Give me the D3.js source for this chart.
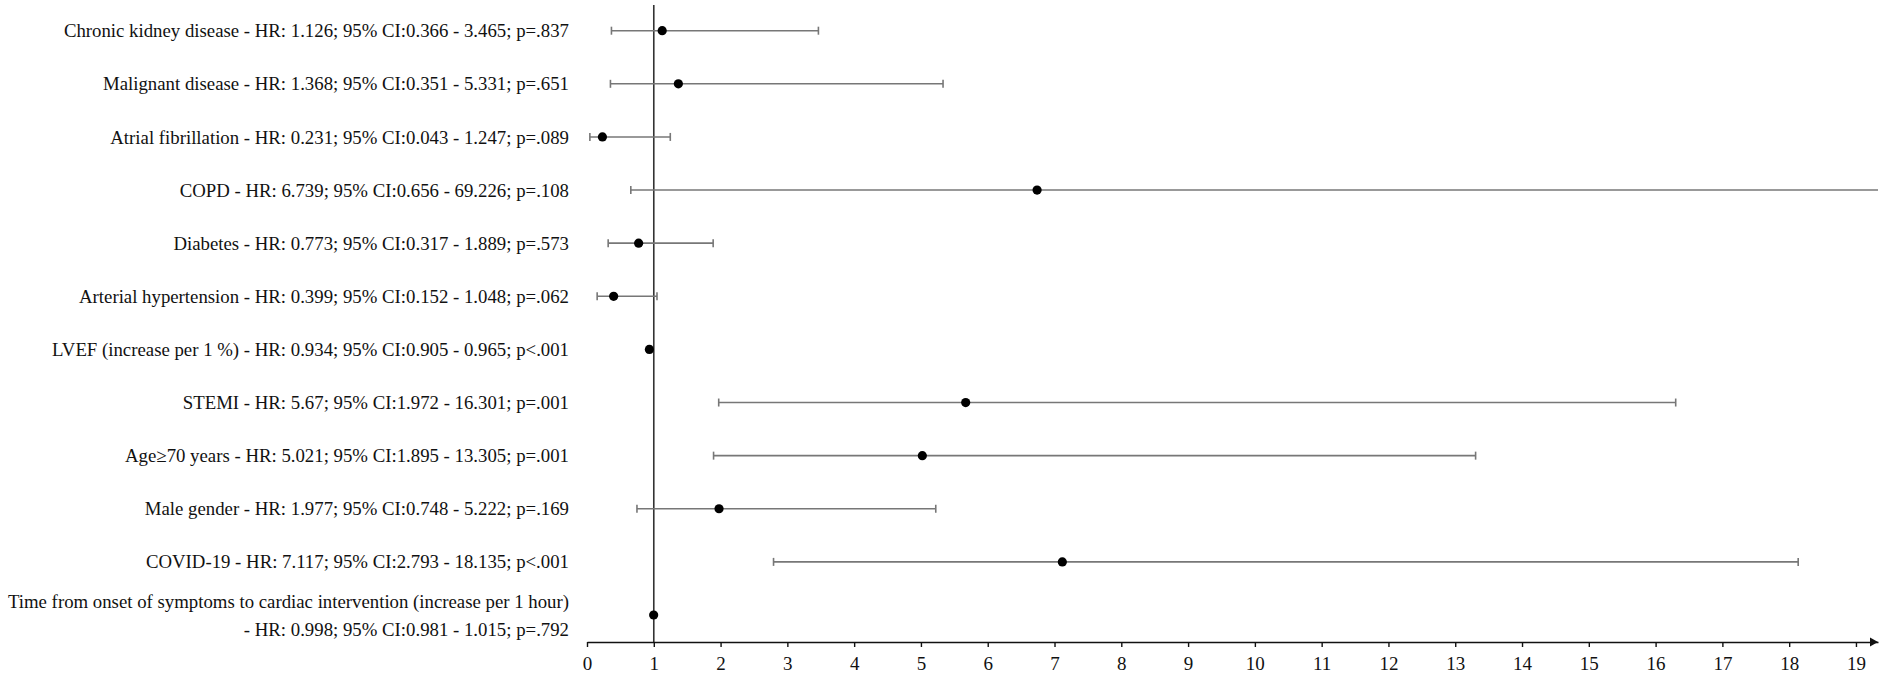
<!DOCTYPE html>
<html>
<head>
<meta charset="utf-8">
<script src="https://cdn.jsdelivr.net/npm/d3@7"></script>
<style>
  body { margin: 0; background: #fff; }
  svg { display: block; }
  text { font-family: "Liberation Serif", "Times New Roman", serif; fill: #111; }
</style>
</head>
<body>
<div id="chart"></div>
<script>
const labels = [
  ["Chronic kidney disease - HR: 1.126; 95% CI:0.366 - 3.465; p=.837"],
  ["Malignant disease - HR: 1.368; 95% CI:0.351 - 5.331; p=.651"],
  ["Atrial fibrillation - HR: 0.231; 95% CI:0.043 - 1.247; p=.089"],
  ["COPD - HR: 6.739; 95% CI:0.656 - 69.226; p=.108"],
  ["Diabetes - HR: 0.773; 95% CI:0.317 - 1.889; p=.573"],
  ["Arterial hypertension - HR: 0.399; 95% CI:0.152 - 1.048; p=.062"],
  ["LVEF (increase per 1 %) - HR: 0.934; 95% CI:0.905 - 0.965; p<.001"],
  ["STEMI - HR: 5.67; 95% CI:1.972 - 16.301; p=.001"],
  ["Age\u226570 years - HR: 5.021; 95% CI:1.895 - 13.305; p=.001"],
  ["Male gender - HR: 1.977; 95% CI:0.748 - 5.222; p=.169"],
  ["COVID-19 - HR: 7.117; 95% CI:2.793 - 18.135; p<.001"],
  ["Time from onset of symptoms to cardiac intervention (increase per 1 hour)",
   "- HR: 0.998; 95% CI:0.981 - 1.015; p=.792"]
];
const hr = [1.126, 1.368, 0.231, 6.739, 0.773, 0.399, 0.934, 5.67, 5.021, 1.977, 7.117, 0.998];
const ciLow = [0.366, 0.351, 0.043, 0.656, 0.317, 0.152, 0.905, 1.972, 1.895, 0.748, 2.793, 0.981];
const ciHigh = [3.465, 5.331, 1.247, 69.226, 1.889, 1.048, 0.965, 16.301, 13.305, 5.222, 18.135, 1.015];
const xTicks = d3.range(0, 20);

const width = 1890, height = 695;
const axisY = 642;
const xMax = 19.33;

const svg = d3.select("#chart").append("svg")
  .attr("width", width)
  .attr("height", height);

const x = d3.scaleLinear().domain([0, xMax]).range([587, 1878]);
const y = d3.scalePoint().domain(d3.range(labels.length)).range([30.7, 615]);

const rows = labels.map((lines, i) => ({
  lines, hr: hr[i], lo: ciLow[i], hi: Math.min(ciHigh[i], xMax), clipped: ciHigh[i] > xMax, i
}));

// labels
const lab = svg.append("g").attr("font-size", 18.8).attr("text-anchor", "end");
rows.forEach(d => {
  const t = lab.append("text").attr("x", 569).attr("y", y(d.i));
  const n = d.lines.length;
  d.lines.forEach((line, k) => {
    t.append("tspan")
      .attr("x", 569)
      .attr("y", y(d.i) + (k - (n - 1) / 2) * 28)
      .attr("dy", "0.35em")
      .text(line);
  });
});

// reference line at HR = 1
svg.append("line")
  .attr("x1", x(1)).attr("x2", x(1))
  .attr("y1", 5).attr("y2", axisY)
  .attr("stroke", "#333").attr("stroke-width", 1.6);

// CI whiskers
const ci = svg.append("g").attr("stroke", "#777").attr("stroke-width", 1.6);
ci.selectAll("line.ci").data(rows).join("line")
  .attr("class", "ci")
  .attr("x1", d => x(d.lo)).attr("x2", d => x(d.hi))
  .attr("y1", d => y(d.i)).attr("y2", d => y(d.i));
ci.selectAll("line.capL").data(rows).join("line")
  .attr("class", "capL")
  .attr("x1", d => x(d.lo)).attr("x2", d => x(d.lo))
  .attr("y1", d => y(d.i) - 4).attr("y2", d => y(d.i) + 4);
ci.selectAll("line.capR").data(rows.filter(d => !d.clipped)).join("line")
  .attr("class", "capR")
  .attr("x1", d => x(d.hi)).attr("x2", d => x(d.hi))
  .attr("y1", d => y(d.i) - 4).attr("y2", d => y(d.i) + 4);

// points
svg.append("g").selectAll("circle").data(rows).join("circle")
  .attr("cx", d => x(d.hr))
  .attr("cy", d => y(d.i))
  .attr("r", 4.6)
  .attr("fill", "#000");

// x axis
const ax = svg.append("g")
  .attr("transform", `translate(0,${axisY})`)
  .call(d3.axisBottom(x).tickValues(xTicks).tickSize(5).tickPadding(9.5).tickSizeOuter(0));
ax.select(".domain").attr("stroke", "#111").attr("stroke-width", 1.6);
ax.selectAll(".tick line").attr("stroke", "#111").attr("stroke-width", 1.4);
ax.selectAll(".tick text")
  .attr("font-size", 19)
  .attr("font-family", "Liberation Serif, Times New Roman, serif")
  .attr("fill", "#111");

// arrow head at the axis end
const xe = x.range()[1];
svg.append("path")
  .attr("d", `M${xe - 8},${axisY - 4.5}L${xe},${axisY}L${xe - 8},${axisY + 4.5}Z`)
  .attr("fill", "#111");
</script>
</body>
</html>
